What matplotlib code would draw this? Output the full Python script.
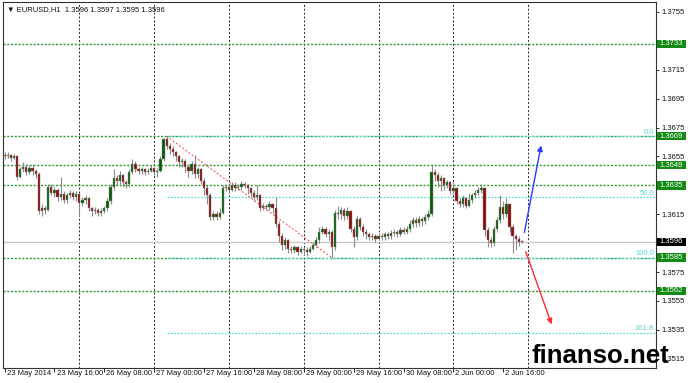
import matplotlib
matplotlib.use("Agg")
import matplotlib.pyplot as plt
from matplotlib.patches import Rectangle
import numpy as np

plt.rcParams['font.family'] = ['Liberation Sans', 'DejaVu Sans']

# EURUSD H1 bars, values are pips above 1.3000 (656 -> 1.3656)
first_open = 656
close_pips = [655, 656, 654, 655, 641, 646, 648, 644, 647, 645,
              643, 617, 619, 618, 634, 630, 632, 627, 629, 625,
              628, 630, 627, 629, 623, 625, 626, 619, 617, 618,
              616, 617, 619, 624, 634, 640, 638, 642, 637, 636,
              644, 650, 646, 645, 646, 644, 645, 647, 644, 645,
              653, 667, 662, 660, 658, 655, 651, 652, 648, 645,
              650, 643, 646, 638, 633, 628, 613, 615, 613, 616,
              633, 634, 632, 635, 633, 634, 636, 635, 633, 630,
              627, 628, 619, 621, 620, 622, 619, 608, 600, 594,
              597, 591, 590, 592, 589, 591, 590, 589, 591, 594,
              597, 603, 605, 601, 603, 592, 616, 615, 618, 614,
              617, 605, 599, 612, 606, 603, 601, 599, 600, 598,
              600, 599, 601, 600, 602, 603, 601, 604, 603, 605,
              608, 611, 609, 612, 610, 613, 615, 644, 642, 638,
              640, 635, 637, 631, 633, 624, 622, 626, 621, 625,
              628, 630, 632, 633, 604, 597, 595, 605, 611, 620,
              615, 622, 606, 600, 598, 596, 596]
high_pips = [658, 658, 657, 657, 656, 648, 651, 650, 649, 650,
             646, 644, 622, 621, 636, 636, 634, 633, 641, 631,
             630, 632, 631, 631, 630, 627, 628, 627, 620, 620,
             619, 619, 621, 626, 636, 646, 642, 645, 643, 639,
             646, 653, 652, 648, 648, 647, 647, 649, 648, 647,
             655, 668, 669, 664, 662, 659, 656, 654, 653, 650,
             652, 656, 648, 647, 640, 635, 630, 617, 617, 619,
             635, 636, 636, 637, 637, 636, 638, 637, 636, 634,
             632, 635, 629, 623, 622, 624, 623, 627, 610, 602,
             599, 598, 593, 594, 593, 593, 592, 592, 593, 596,
             599, 606, 607, 606, 605, 604, 618, 621, 620, 619,
             620, 618, 607, 614, 613, 608, 605, 603, 602, 601,
             602, 602, 603, 603, 604, 605, 604, 606, 606, 607,
             611, 613, 613, 614, 613, 615, 618, 650, 646, 644,
             642, 641, 639, 638, 637, 634, 626, 628, 627, 630,
             630, 632, 634, 636, 634, 606, 599, 607, 613, 628,
             624, 626, 623, 608, 601, 600, 597]
low_pips = [653, 654, 652, 653, 639, 640, 644, 642, 643, 642,
            640, 615, 614, 615, 617, 628, 627, 624, 625, 623,
            623, 626, 625, 624, 614, 621, 622, 617, 614, 615,
            614, 614, 616, 617, 622, 632, 635, 636, 634, 633,
            634, 643, 644, 643, 643, 642, 643, 644, 642, 641,
            644, 652, 660, 657, 655, 652, 648, 648, 644, 641,
            643, 640, 640, 636, 628, 622, 611, 611, 611, 612,
            615, 631, 630, 631, 631, 632, 632, 633, 629, 627,
            624, 625, 617, 618, 618, 618, 616, 606, 596, 590,
            591, 588, 588, 588, 587, 588, 587, 586, 588, 590,
            592, 595, 601, 599, 597, 585, 590, 612, 612, 611,
            612, 603, 592, 597, 604, 600, 598, 597, 597, 596,
            597, 597, 597, 598, 598, 600, 599, 600, 601, 601,
            603, 606, 606, 607, 607, 608, 611, 614, 638, 634,
            631, 632, 633, 629, 629, 622, 620, 620, 619, 620,
            623, 626, 628, 630, 600, 592, 592, 593, 603, 609,
            612, 613, 603, 588, 590, 593, 595]

date_labels = ["23 May 2014", "23 May 16:00", "26 May 08:00", "27 May 00:00",
               "27 May 16:00", "28 May 08:00", "29 May 00:00", "29 May 16:00",
               "30 May 08:00", "2 Jun 00:00", "2 Jun 16:00"]
date_bars = [0, 16, 32, 48, 64, 80, 96, 112, 128, 144, 160]
grid_bars = [24, 48, 72, 96, 120, 144, 168]

price_ticks = [1.3515, 1.3535, 1.3555, 1.3575, 1.3595, 1.3615, 1.3635,
               1.3655, 1.3675, 1.3695, 1.3715, 1.3735, 1.3755]
hidden_ticks = [1.3595, 1.3635, 1.3735]   # sit under the price tags
green_levels = [1.3733, 1.3669, 1.3649, 1.3635, 1.3585, 1.3562]
current_price = 1.3596
fib_top = 1.3669
fib_bottom = 1.3585
fib_ratios = [0.0, 50.0, 100.0, 161.8]
fib_start_bar = 52
trend_bars = [52, 105]

blue_arrow = [(166.6, 1.36005), (172.3, 1.36645)]
red_arrow = [(166.9, 1.35910), (175.8, 1.35370)]

to_price = lambda v: 1.3 + np.array(v) / 10000.0
c = to_price(close_pips)
h = to_price(high_pips)
l = to_price(low_pips)
o = to_price([first_open] + close_pips[:-1])
x = np.arange(len(c))

fig = plt.figure(figsize=(6.88, 3.83), dpi=100)
ax = fig.add_axes([3 / 688, 15 / 383, 653 / 688, 366 / 383])
ax.set_xlim(-0.5, 209.0)
ax.set_ylim(1.35086, 1.37619)

# grid + levels
for b in grid_bars:
    ax.axvline(b, color='#222222', ls=(0, (2, 2)), lw=0.7, zorder=1)
ax.axhline(current_price, color='#c8c8c8', lw=1.0, zorder=1)
for lv in green_levels:
    ax.axhline(lv, color='#2e9a2e', ls=(0, (1.5, 1.2)), lw=1.0, zorder=1)

rng = fib_bottom - fib_top
for r in fib_ratios:
    lv = fib_top + rng * r / 100.0
    ax.hlines(lv, fib_start_bar, 209.0, color='#5fdcdc', ls=(0, (1.5, 1.2)), lw=0.9, zorder=1.2)
    ax.annotate("%.1f" % r, xy=(1.0, lv), xycoords=('axes fraction', 'data'),
                xytext=(-1.5, 0.3), textcoords='offset points', ha='right', va='bottom',
                fontsize=5.5, color='#55d5d5')
ax.plot(trend_bars, [h[trend_bars[0]], l[trend_bars[1]]], color='#ff4040',
        ls=(0, (2, 2)), lw=0.7, zorder=1.5)

# candles
up = c >= o
ax.vlines(x, l, h, color='#8a8a8a', lw=0.8, zorder=2)
body_h = np.maximum(np.abs(c - o), 0.00004)
ax.bar(x[up], body_h[up], bottom=np.minimum(o, c)[up], width=0.72,
       color='#0d5c0d', edgecolor='#8a8a8a', lw=0.3, zorder=3)
ax.bar(x[~up], body_h[~up], bottom=np.minimum(o, c)[~up], width=0.72,
       color='#8c0c0c', edgecolor='#8a8a8a', lw=0.3, zorder=3)

# arrows
ax.annotate('', xy=blue_arrow[1], xytext=blue_arrow[0],
            arrowprops=dict(arrowstyle='-|>', color='#2a3cff', lw=1.0, mutation_scale=8))
ax.annotate('', xy=red_arrow[1], xytext=red_arrow[0],
            arrowprops=dict(arrowstyle='-|>', color='#ff2a2a', lw=1.0, mutation_scale=8))

# axes styling
for s in ax.spines.values():
    s.set_color('#333333')
    s.set_linewidth(0.8)
ax.yaxis.tick_right()
ax.set_yticks(price_ticks)
ax.set_yticklabels(["" if p in hidden_ticks else "%.4f" % p for p in price_ticks])
ax.tick_params(axis='y', length=2.5, width=0.6, pad=1.5, labelsize=5.5, colors='#111111')
ax.set_xticks(date_bars)
ax.set_xticklabels([])
ax.tick_params(axis='x', length=3, width=0.6, direction='out')
for b, lab in zip(date_bars, date_labels):
    ax.annotate(lab, xy=(b, 0), xycoords=('data', 'axes fraction'), xytext=(1.5, -1.2),
                textcoords='offset points', ha='left', va='top', fontsize=5.5,
                color='#111111', annotation_clip=False)

# price tags
tag_w = 29 / 653
tag_h = 0.00058
for lv in green_levels + [current_price]:
    fc = '#000000' if lv == current_price else '#138a13'
    ax.add_patch(Rectangle((1.0015, lv - tag_h / 2), tag_w, tag_h,
                           transform=ax.get_yaxis_transform(), facecolor=fc,
                           edgecolor='none', clip_on=False, zorder=6))
    ax.text(1.0015 + tag_w / 2, lv, "%.4f" % lv, transform=ax.get_yaxis_transform(),
            ha='center', va='center', fontsize=5.5, color='white', zorder=7, clip_on=False)

ax.text(0.006, 0.988, "\u25bc EURUSD,H1  1.3596 1.3597 1.3595 1.3596",
        transform=ax.transAxes, ha='left', va='top', fontsize=5.5, color='#111111')

fig.text(532 / 688, 20 / 383, "finanso.net", fontsize=18.5, fontweight='bold',
         family='Liberation Sans', color='black', ha='left', va='baseline')

fig.savefig('out.png', dpi=100)
